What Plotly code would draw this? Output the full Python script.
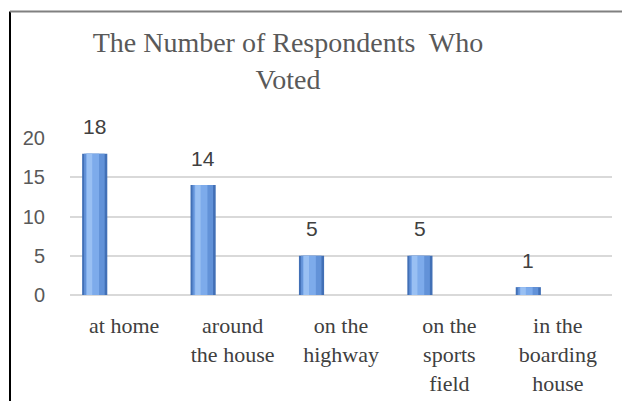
import plotly.graph_objects as go

categories = ["at home", "around<br>the house", "on the<br>highway", "on the<br>sports<br>field", "in the<br>boarding<br>house"]
values = [18, 14, 5, 5, 1]
y_ticks = [0, 5, 10, 15, 20]
title_text = "The Number of Respondents  Who<br>Voted"

fig = go.Figure()

# layered strips to imitate the shaded 3-D column look
strips = [
    (0.232, -0.388, "#4270b6"),
    (0.19, -0.370, "#6292d8"),
    (0.12, -0.352, "#7dabeb"),
    (0.05, -0.345, "#99c0f3"),
]
for w, off, col in strips:
    fig.add_trace(go.Bar(
        x=categories, y=values, width=w, offset=off,
        marker=dict(color=col, line=dict(width=0)),
        hoverinfo="skip", showlegend=False,
    ))

for c, v in zip(categories, values):
    fig.add_annotation(
        x=c, y=v, text=str(v), showarrow=False,
        xshift=-29.5, yshift=27, yanchor="middle",
        font=dict(family="Liberation Sans", size=21, color="#404040"),
    )

# frame lines (left and top edges of the cropped chart frame)
fig.add_shape(type="line", xref="paper", yref="paper",
              x0=-0.1107, x1=-0.1107, y0=1.805, y1=-0.70,
              line=dict(color="#000000", width=2))
fig.add_shape(type="line", xref="paper", yref="paper",
              x0=-0.1107, x1=1.03, y0=1.805, y1=1.805,
              line=dict(color="#808080", width=2))

fig.update_layout(
    width=622, height=401,
    margin=dict(l=70, r=10, t=138, b=106, autoexpand=False),
    paper_bgcolor="white", plot_bgcolor="white",
    barmode="overlay",
    title=dict(text=title_text, x=0.463, xref="container", xanchor="center",
               y=0.87, yref="container", yanchor="top",
               font=dict(family="Liberation Serif", size=28, color="#595959")),
    xaxis=dict(
        type="category", showgrid=False, zeroline=False, showline=False,
        automargin=False,
        ticks="outside", ticklen=11, tickcolor="rgba(0,0,0,0)",
        tickfont=dict(family="Liberation Serif", size=22, color="#404040"),
    ),
    yaxis=dict(
        range=[0, 20], tickvals=y_ticks, showgrid=True, automargin=False,
        gridcolor="#d9d9d9", gridwidth=2, zeroline=True, zerolinecolor="#d9d9d9",
        zerolinewidth=2, showline=False,
        ticks="outside", ticklen=20, tickcolor="rgba(0,0,0,0)",
        tickfont=dict(family="Liberation Sans", size=20, color="#595959"),
    ),
)

fig.write_html("out.html", config={"displayModeBar": False},
               post_script="document.body.style.margin='0px';")
